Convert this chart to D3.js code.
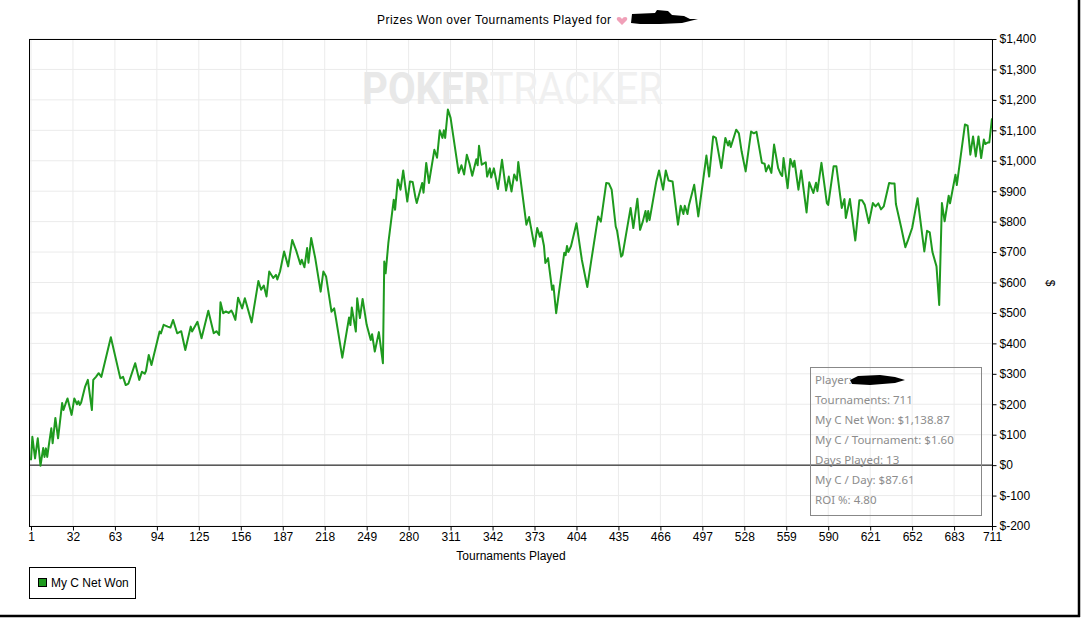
<!DOCTYPE html>
<html>
<head>
<meta charset="utf-8">
<script src="https://cdn.jsdelivr.net/npm/d3@7"></script>
<style>
  body { margin: 0; background: #fff; }
  svg { display: block; }
</style>
</head>
<body>
<div id="chart"></div>
<script>
/* data: tournament number and cumulative net won ($) */
const tournaments = [1,2,4,6,8,10,11,12,13,14,16,17,19,21,24,25,27,28,31,33,35,36,37,38,41,43,46,47,49,51,53,60,67,69,71,73,78,81,83,85,86,88,90,96,97,99,102,104,106,109,112,115,119,120,124,127,132,136,138,140,141,143,145,147,149,150,152,154,157,159,164,169,171,173,175,177,180,182,183,185,188,191,194,197,200,201,203,205,206,208,211,215,217,219,223,225,226,231,236,237,238,241,242,244,246,249,252,253,255,258,261,262,263,265,269,270,272,274,276,279,281,283,285,286,290,291,293,295,299,301,303,305,306,307,309,311,317,319,321,323,325,327,330,331,332,334,337,338,340,341,343,346,349,352,354,356,358,360,361,367,369,370,373,375,377,378,380,381,383,386,387,389,395,396,397,398,400,404,408,412,415,420,422,426,428,430,433,434,437,438,444,446,449,451,453,455,456,457,458,463,465,468,470,472,475,479,481,483,484,486,487,491,494,500,502,505,507,511,514,516,517,518,522,524,526,529,533,535,537,541,543,544,546,548,550,553,555,556,557,560,562,564,565,568,570,574,576,579,581,582,585,589,590,594,596,600,602,603,606,610,613,615,617,620,623,625,627,629,631,635,637,639,640,644,647,649,652,656,661,663,665,667,670,672,674,676,679,680,684,685,691,693,695,697,699,701,703,705,706,708,709,711];
const netWon = [16,93,22,88,-2,56,27,55,27,60,121,72,155,88,204,181,208,219,165,219,200,210,198,205,258,280,181,280,290,302,290,420,285,290,263,268,335,280,307,300,310,362,329,439,433,461,455,452,477,433,440,378,455,439,471,417,507,433,440,428,535,499,505,500,508,500,477,550,515,548,469,605,576,590,554,636,615,625,610,636,702,653,740,704,660,675,650,713,665,746,680,570,636,620,504,515,490,353,485,460,518,439,548,483,546,461,411,430,373,437,335,669,630,729,872,839,938,905,968,866,932,930,880,861,927,895,993,927,1036,1010,1100,1075,1100,1075,1168,1141,960,985,955,1020,990,951,1005,985,1049,987,995,948,975,945,975,907,1003,902,948,899,955,935,996,790,815,790,718,779,750,765,720,664,680,576,590,499,698,690,720,700,720,795,674,585,674,817,800,927,925,905,784,770,685,690,845,779,875,773,800,835,800,835,805,932,968,905,968,935,932,790,852,825,852,825,852,921,817,1017,948,1080,1075,976,1075,1050,1065,1045,1102,1090,1031,965,1096,1090,1095,993,990,965,985,960,1053,976,955,950,1009,910,1006,980,1000,905,968,830,929,894,928,900,993,861,855,982,982,845,874,812,874,738,870,870,855,795,861,850,860,840,850,927,925,925,858,779,716,740,779,877,702,770,765,700,653,526,861,801,885,860,954,920,1119,1115,1020,1080,1014,1080,1009,1070,1055,1060,1060,1139];

const xTicks = [1,32,63,94,125,156,187,218,249,280,311,342,373,404,435,466,497,528,559,590,621,652,683,711];
const yTicks = [-200,-100,0,100,200,300,400,500,600,700,800,900,1000,1100,1200,1300,1400];

const statLines = ["Player:", "Tournaments: 711", "My C Net Won: $1,138.87", "My C / Tournament: $1.60",
                   "Days Played: 13", "My C / Day: $87.61", "ROI %: 4.80"];

const W = 1082, H = 618;
const plot = { left: 29, top: 39, right: 992, bottom: 526 };

const svg = d3.select("#chart").append("svg")
    .attr("width", W).attr("height", H)
    .style("font-family", "'Liberation Sans', Arial, sans-serif");

/* scales */
const x = d3.scaleLinear().domain([1, 711]).range([31, plot.right]);
const y = d3.scaleLinear().domain([-200, 1400]).range([plot.bottom, plot.top]);

/* grid */
svg.append("g").selectAll("line").data(xTicks).join("line")
    .attr("x1", d => x(d)).attr("x2", d => x(d))
    .attr("y1", plot.top).attr("y2", plot.bottom)
    .attr("stroke", "#ebebeb");
svg.append("g").selectAll("line").data(yTicks).join("line")
    .attr("x1", plot.left).attr("x2", plot.right)
    .attr("y1", d => y(d)).attr("y2", d => y(d))
    .attr("stroke", "#ebebeb");

/* watermark */
const wm = svg.append("text")
    .attr("x", 362).attr("y", 104)
    .attr("textLength", 301).attr("lengthAdjust", "spacingAndGlyphs")
    .style("font-family", "'Roboto', sans-serif")
    .style("font-weight", "bold")
    .style("font-size", "44px");
wm.append("tspan").attr("fill", "#e8e8e8").text("POKER");
wm.append("tspan").attr("fill", "#f0f0f0").style("font-weight", "normal").text("TRACKER");

/* zero line */
svg.append("line")
    .attr("x1", plot.left).attr("x2", plot.right)
    .attr("y1", y(0)).attr("y2", y(0))
    .attr("stroke", "#000").attr("stroke-width", 1);

/* data line */
const pts = tournaments.map((t, i) => [t, netWon[i]]);
svg.append("path")
    .datum(pts)
    .attr("fill", "none")
    .attr("stroke", "#1e9a1e")
    .attr("stroke-width", 2)
    .attr("stroke-linejoin", "round")
    .attr("d", d3.line().x(d => x(d[0])).y(d => y(d[1])));

/* plot frame */
svg.append("rect")
    .attr("x", plot.left + 0.5).attr("y", plot.top + 0.5)
    .attr("width", plot.right - plot.left).attr("height", plot.bottom - plot.top)
    .attr("fill", "none").attr("stroke", "#000");

/* axes */
const fmt = d => "$" + (d < 0 ? "-" + d3.format(",")(-d) : d3.format(",")(d));
const yAxis = svg.append("g")
    .attr("transform", `translate(${plot.right + 0.5},0)`)
    .call(d3.axisRight(y).tickValues(yTicks).tickFormat(fmt).tickSize(4).tickPadding(3));
const xAxis = svg.append("g")
    .attr("transform", `translate(0,${plot.bottom + 0.5})`)
    .call(d3.axisBottom(x).tickValues(xTicks).tickFormat(d3.format("d")).tickSize(4).tickPadding(2));
[xAxis, yAxis].forEach(a => {
    a.select(".domain").remove();
    a.selectAll("text").style("font-size", "12px").style("font-family", "'Liberation Sans', Arial, sans-serif").attr("fill", "#000");
});

/* titles */
svg.append("text")
    .attr("x", 377).attr("y", 24)
    .attr("textLength", 234).attr("lengthAdjust", "spacing")
    .style("font-size", "12px")
    .text("Prizes Won over Tournaments Played for");
// small heart icon + redacted name blob
svg.append("path")
    .attr("d", "M622,25 L617,20 Q616,17 619,17 Q621,17 622,19 Q623,17 625,17 Q628,17 627,20 Z")
    .attr("fill", "#f0a0b8");
svg.append("path")
    .attr("d", "M632,14 L655,13 L657,10 L668,11 L672,15 L684,16 L690,19 L698,19 L690,21 L682,23 L660,24 L640,24 L631,23 Z")
    .attr("fill", "#000");

svg.append("text")
    .attr("x", 511).attr("y", 560)
    .attr("text-anchor", "middle")
    .style("font-size", "12px")
    .text("Tournaments Played");
svg.append("text")
    .attr("transform", "translate(1046,283) rotate(90)")
    .attr("text-anchor", "middle")
    .style("font-size", "12px")
    .text("$");

/* stats box */
const box = svg.append("g");
box.append("rect")
    .attr("x", 810.5).attr("y", 367.5).attr("width", 171).attr("height", 148)
    .attr("fill", "none").attr("stroke", "#888");
box.selectAll("text").data(statLines).join("text")
    .attr("x", 815).attr("y", (d, i) => 384 + i * 20)
    .attr("fill", "#8c8c8c")
    .style("font-family", "'Noto Sans', 'Open Sans', sans-serif")
    .style("font-size", "11.5px")
    .text(d => d);
box.append("path")
    .attr("d", "M850,380 L858,376 L880,375 L895,377 L905,380 L895,383 L870,385 L852,384 Z")
    .attr("fill", "#000");

/* legend */
const lg = svg.append("g");
lg.append("rect")
    .attr("x", 29.5).attr("y", 567.5).attr("width", 106).attr("height", 31)
    .attr("fill", "#fff").attr("stroke", "#000");
lg.append("rect")
    .attr("x", 38.5).attr("y", 578.5).attr("width", 8).attr("height", 8)
    .attr("fill", "#1e9a1e").attr("stroke", "#000");
lg.append("text")
    .attr("x", 51).attr("y", 587)
    .style("font-size", "12px")
    .text("My C Net Won");

/* screenshot frame at right / bottom */
svg.append("line").attr("x1", 1079).attr("x2", 1079).attr("y1", 0).attr("y2", 617)
    .attr("stroke", "#000").attr("stroke-width", 2.5);
svg.append("line").attr("x1", 0).attr("x2", 1080).attr("y1", 616).attr("y2", 616)
    .attr("stroke", "#000").attr("stroke-width", 2.5);
</script>
</body>
</html>
